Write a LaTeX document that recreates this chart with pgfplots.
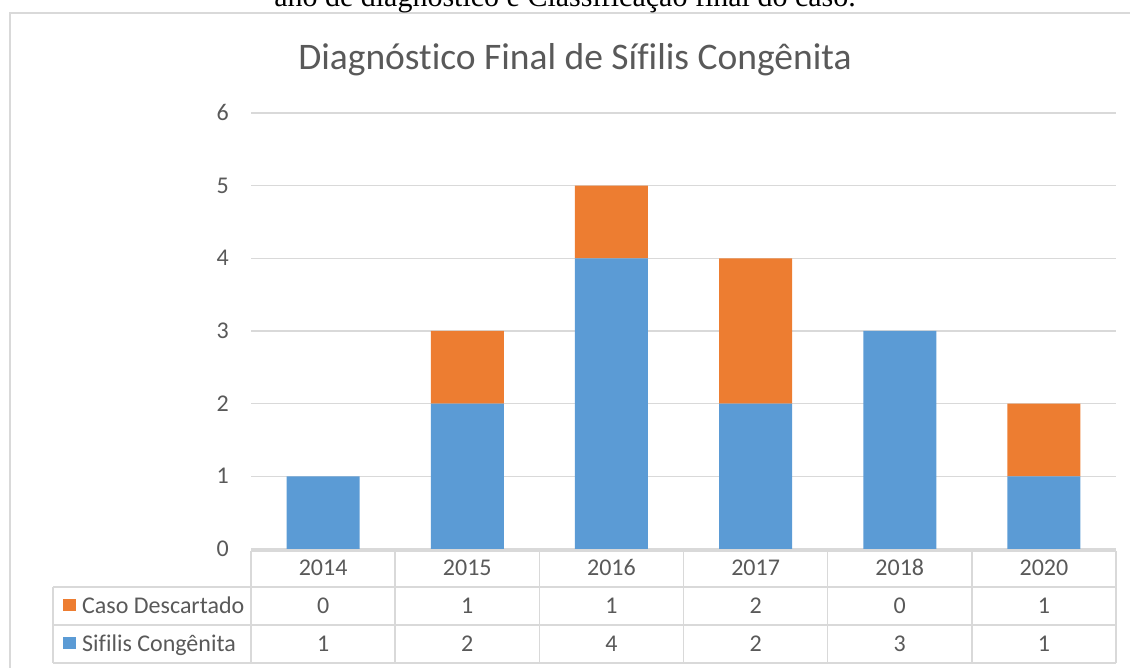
\documentclass[border=0pt]{standalone}
\usepackage{pgfplots}
\pgfplotsset{compat=1.18}
\usepackage{fontspec}
\setmainfont{Carlito}[Ligatures={NoCommon}]
\newfontfamily\capfont{Liberation Serif}
\definecolor{cblue}{HTML}{5B9BD5}
\definecolor{corange}{HTML}{ED7D31}
\definecolor{gridgray}{HTML}{D9D9D9}
\definecolor{txtgray}{HTML}{595959}
\newcommand{\tfont}{\fontsize{24}{28}\selectfont}
\begin{document}
\begin{tikzpicture}[x=1pt,y=1pt]
\clip (0,0) rectangle (1130,668);
% outer chart border
\draw[gridgray, line width=2.2pt] (10,655) rectangle (1150,-20);
% cut-off caption (as in the reference)
\node[anchor=base, inner sep=0pt, font=\capfont\fontsize{30}{34}\selectfont] at (565,661) {ano de diagnóstico e Classificação final do caso.};
% title
\node[anchor=base, inner sep=0pt, text=txtgray, font=\fontsize{37.5}{42}\selectfont] at (575,598) {Diagnóstico Final de Sífilis Congênita};
\begin{axis}[
  at={(251pt,119pt)}, anchor=south west,
  scale only axis, width=865pt, height=436pt,
  ybar stacked, bar width=73pt,
  xmin=-0.5, xmax=5.5, ymin=0, ymax=6,
  xtick={0,1,2,3,4,5},
  xticklabels={2014,2015,2016,2017,2018,2020},
  ytick={0,1,2,3,4,5,6},
  axis line style={draw=none},
  major tick length=0pt,
  ymajorgrids, grid style={draw=gridgray, line width=1.5pt},
  /pgf/number format/assume math mode=true,
  ticklabel style={font=\tfont, text=txtgray, inner sep=0pt},
  yticklabel style={anchor=base east, xshift=-22pt, yshift=-7.5pt},
  xticklabel style={anchor=base, yshift=-27pt},
  clip=false,
]
\addplot[fill=cblue, draw=none] coordinates {(0,1) (1,2) (2,4) (3,2) (4,3) (5,1)};
\addplot[fill=corange, draw=none] coordinates {(0,0) (1,1) (2,1) (3,2) (4,0) (5,1)};
\end{axis}
% data table
\begin{scope}[gridgray, line width=1.5pt]
\draw (251,117) -- (1116,117);
\draw (53,81) -- (1116,81);
\draw (53,43) -- (1116,43);
\draw (53,5) -- (1116,5);
\draw (53,81) -- (53,5);
\foreach \k in {0,...,6} { \draw ({251+144.17*\k},117) -- ({251+144.17*\k},5); }
\end{scope}
\fill[corange] (63,57) rectangle (76,69);
\fill[cblue] (63,19) rectangle (76,31);
\node[anchor=base west, inner sep=0pt, text=txtgray, font=\tfont] at (82,54.5) {Caso Descartado};
\node[anchor=base west, inner sep=0pt, text=txtgray, font=\tfont] at (82,16.5) {Sifilis Congênita};
\foreach \v [count=\i from 0] in {0,1,1,2,0,1} {
  \node[anchor=base, inner sep=0pt, text=txtgray, font=\tfont] at ({251+144.17*(\i+0.5)},54.5) {\v};
}
\foreach \v [count=\i from 0] in {1,2,4,2,3,1} {
  \node[anchor=base, inner sep=0pt, text=txtgray, font=\tfont] at ({251+144.17*(\i+0.5)},16.5) {\v};
}
\end{tikzpicture}
\end{document}
